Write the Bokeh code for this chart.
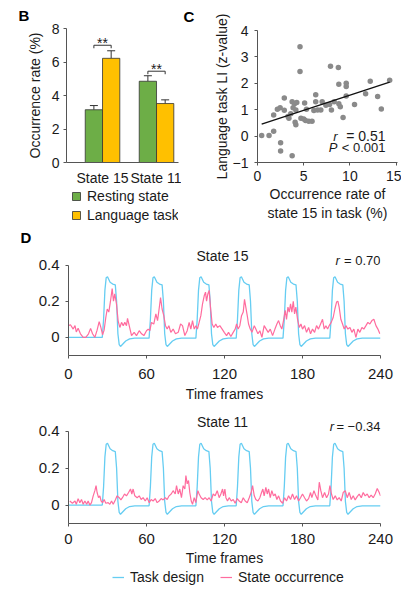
from bokeh.plotting import figure
from bokeh.models import (Range1d, FixedTicker, Legend, LegendItem, Label, Whisker, TeeHead,
                          ColumnDataSource, NumeralTickFormatter, Title)
from bokeh.layouts import row, column
from bokeh.transform import dodge
from bokeh.embed import file_html
from bokeh.resources import INLINE

FONT = "Liberation Sans"
TXT = "#1a1a1a"
AX = "#555555"

# ---------------- data: panel B ----------------
groups = ["State 15", "State 11"]
resting_rate = [3.15, 4.85]
resting_err = [0.25, 0.33]
task_rate = [6.22, 3.52]
task_err = [0.45, 0.22]
sig_y = [7.0, 5.45]
sig_text = ["**", "**"]
legend_b = ["Resting state", "Language task"]

# ---------------- data: panel C ----------------
occ_rate = [0.45, 1.25, 1.75, 1.75, 2.15, 2.45, 2.9, 2.9, 2.5, 2.5, 3.75, 3.3, 3.6, 3.75,
            4.0, 4.25, 3.85, 4.15, 4.15, 4.6, 4.6, 4.7, 5.0, 5.1, 5.2, 5.55, 5.9, 5.3,
            6.1, 6.3, 6.3, 6.5, 6.85, 7.0, 7.4, 7.8, 7.9, 8.0, 8.3, 8.75, 8.8, 8.8,
            8.96, 9.26, 9.6, 9.6, 9.6, 10.5, 11.7, 12.2, 13.0, 13.4, 14.3, 3.4, 4.07]
li_z = [0.02, 0.02, 0.18, 0.80, 1.02, 1.07, 0.98, 1.44, -0.25, -0.56, -0.74, 0.74, 0.85, 1.30,
        1.23, 1.27, 1.07, 0.99, 0.43, 3.38, 2.45, 0.68, 0.65, 1.25, 0.59, 0.56, 0.56, 1.02,
        0.97, 1.57, 1.30, 0.99, 0.99, 1.30, 1.17, 1.20, 2.65, 0.99, 1.30, 2.60, 1.96, 1.23,
        1.11, 0.70, 1.88, 2.00, 1.52, 1.20, 1.60, 2.08, 1.50, 1.03, 2.12, 0.68, 0.52]
fit_intercept = 0.40
fit_slope = 0.115

# ---------------- data: panel D ----------------
legend_d = ["Task design", "State occurrence"]
task_frames = [0,
               26, 27, 28, 29, 30, 31, 32, 34, 36, 37, 38, 39, 40, 42, 44, 47, 51,
               62, 63, 64, 65, 66, 67, 68, 70, 72, 73, 74, 75, 76, 78, 80, 83, 87,
               98, 99, 100, 101, 102, 103, 104, 106, 108, 109, 110, 111, 112, 114, 116, 119, 123,
               129, 130, 131, 132, 133, 134, 135, 137, 139, 140, 141, 142, 143, 145, 147, 150, 154,
               165, 166, 167, 168, 169, 170, 171, 173, 175, 176, 177, 178, 179, 181, 183, 186, 190,
               201, 202, 203, 204, 205, 206, 207, 209, 211, 212, 213, 214, 215, 217, 219, 222, 226,
               240]
task_design = [0,
               0, 0.1, 0.26, 0.33, 0.335, 0.32, 0.305, 0.295, 0.29, 0.2, 0.02, -0.04, -0.05, -0.035, -0.02, -0.008, -0.004,
               -0.004, 0.1, 0.26, 0.33, 0.335, 0.32, 0.305, 0.295, 0.29, 0.2, 0.02, -0.04, -0.05, -0.035, -0.02, -0.008, -0.004,
               -0.004, 0.1, 0.26, 0.33, 0.335, 0.32, 0.305, 0.295, 0.29, 0.2, 0.02, -0.04, -0.05, -0.035, -0.02, -0.008, -0.004,
               -0.004, 0.1, 0.26, 0.33, 0.335, 0.32, 0.305, 0.295, 0.29, 0.2, 0.02, -0.04, -0.05, -0.035, -0.02, -0.008, -0.004,
               -0.004, 0.1, 0.26, 0.33, 0.335, 0.32, 0.305, 0.295, 0.29, 0.2, 0.02, -0.04, -0.05, -0.035, -0.02, -0.008, -0.004,
               -0.004, 0.1, 0.26, 0.33, 0.335, 0.32, 0.305, 0.295, 0.29, 0.2, 0.02, -0.04, -0.05, -0.035, -0.02, -0.008, -0.004,
               -0.004]

s15_frames = [0, 1.5, 3.6, 5, 6, 7.4, 9.2, 11.3, 13.3, 15.4, 17, 18.5, 20.3, 22, 23.6, 24.9, 26.2, 27.4,
              28.7, 29.8, 31, 32.3, 33.6, 34.6, 35.6, 36.9, 38.2, 39.5, 40.8, 42.1, 43.3, 44.6, 45.4,
              46.7, 48.5, 50.5, 52.3, 54.4, 56.2, 58, 60, 61.3, 62.6, 63.8, 65.6, 67.2, 68.5, 69.7,
              70.8, 72, 73.3, 74.6, 75.9, 77.2, 78.7, 80.5, 82.3, 84.4, 86.2, 87.7, 89.5, 91.3, 92.8,
              94.1, 95.4, 96.7, 98, 99.2, 100.5, 101.8, 103.1, 104.4, 105.4, 106.2, 107.2, 108.2,
              109.2, 110.5, 111.8, 113.3, 114.6, 116.4, 118.2, 119.8, 121.6, 123.1, 124.9, 126.7,
              128.2, 129.3, 130.5, 131.8, 133.1, 134.4, 135.4, 136.4, 137.5, 138.5, 139.8, 141.1,
              142.9, 144.1, 145.7, 147.2, 148.8, 150.5, 152.1, 153.6, 155.2, 157, 158.8, 160.3,
              161.6, 162.9, 164.1, 165.4, 166.7, 167.7, 168.8, 169.8, 170.8, 171.8, 172.9, 173.9,
              174.9, 176.2, 177.5, 178.8, 180, 181.6, 183.1, 184.7, 186.2, 187.7, 189.3, 190.8,
              192.3, 193.9, 195.4, 196.7, 198, 199.3, 200.5, 202.1, 203.6, 204.9, 206.2, 207.2,
              208.2, 209.5, 210.8, 212.1, 213.4, 214.9, 216.5, 218, 219.5, 221.1, 222.6, 224.1,
              225.7, 227.2, 228.8, 230.3, 231.8, 233.4, 234.9, 236.5, 238, 239.5]
s15_occ = [0.065, 0.07, 0.046, 0.065, 0.03, 0.05, 0.02, 0.0, 0.0, 0.02, 0.05, 0.02, 0.0, 0.04, 0.087, 0.055, 0.015, 0.04,
           0.11, 0.157, 0.14, 0.2, 0.27, 0.2, 0.24, 0.185, 0.09, 0.055, 0.083, 0.065, 0.083, 0.065, 0.105,
           0.065, 0.01, 0.028, 0.01, 0.037, 0.02, 0.01, 0.037, 0.046, 0.037, 0.083, 0.074, 0.13, 0.093, 0.157,
           0.22, 0.157, 0.12, 0.065, 0.046, 0.065, 0.028, 0.046, 0.02, 0.028, 0.074, 0.065, 0.01, 0.037, 0.083,
           0.046, 0.093, 0.046, 0.065, 0.046, 0.083, 0.12, 0.185, 0.23, 0.25, 0.2, 0.24, 0.26,
           0.167, 0.074, 0.055, 0.074, 0.055, 0.065, 0.046, 0.028, 0.01, 0.028, 0.005, 0.028,
           0.046, 0.074, 0.046, 0.065, 0.12, 0.14, 0.21, 0.167, 0.12, 0.074, 0.046, 0.028,
           0.065, 0.046, 0.02, 0.037, 0.0, 0.065, 0.046, 0.028, 0.046, 0.01, 0.046, 0.074,
           0.093, 0.065, 0.046, 0.093, 0.15, 0.1, 0.167, 0.14, 0.185, 0.14, 0.2, 0.13,
           0.167, 0.1, 0.055, 0.074, 0.046, 0.065, 0.028, 0.055, 0.02, 0.046, 0.028, 0.065,
           0.046, 0.074, 0.1, 0.046, 0.065, 0.046, 0.065, 0.083, 0.11, 0.157, 0.195, 0.2,
           0.167, 0.1, 0.074, 0.046, 0.065, 0.046, 0.055, 0.028, 0.046, 0.0, 0.046, 0.028,
           0.055, 0.046, 0.065, 0.083, 0.074, 0.093, 0.1, 0.065, 0.046, 0.02]

s11_frames = [1, 3, 5, 6, 7.4, 8.7, 10, 11.3, 12.6, 14, 15.1, 16.4, 17.7, 19, 20.3, 21.2, 22, 23.1,
              24.1, 25.1, 26.2, 27.4, 28.7, 30.5, 31.8, 33.1, 34.4, 36.2, 37.4, 39, 40.3, 41.5,
              43.1, 44.6, 46.2, 47.7, 48.7, 49.7, 51, 52.8, 54.4, 55.9, 57.4, 59, 60.5, 62.1,
              63.6, 65.1, 66.7, 68.2, 69.7, 71.3, 72.8, 74.4, 75.9, 77.4, 79, 80.5, 82.1, 83.1,
              84.4, 85.6, 86.9, 88.2, 89.5, 90.3, 91.3, 92.3, 93.3, 94.4, 95.4, 96.7, 97.9,
              99.5, 100.5, 102, 103.6, 105.1, 106.7, 108.2, 109.7, 111.3, 112.8, 114.4, 115.9,
              117.2, 118.5, 119.3, 120.3, 121.1, 122.3, 123.6, 125.2, 126.7, 128.2, 129.8, 131.3,
              132.9, 134.4, 135.9, 137.5, 139, 140.5, 141.6, 142.9, 144.1, 145.7, 147.2, 148.5,
              149.5, 150.5, 151.8, 152.9, 153.9, 155.2, 156.4, 157.7, 159, 160.3, 161.6, 163.1,
              164.7, 166.2, 167.7, 169.3, 170.8, 172.3, 173.9, 175.4, 177, 178.5, 180, 181.6,
              183.1, 184.7, 186.2, 187.2, 188.8, 190.3, 191.8, 192.9, 194.1, 195.4, 197, 198.5,
              200, 201.1, 202.3, 203.6, 205.2, 206.7, 208.2, 209.8, 211.3, 212.9, 214.4, 215.9,
              217.5, 219, 220.5, 222.1, 223.6, 225.2, 226.7, 228.2, 229.8, 231.3, 232.8, 234.4,
              235.9, 237.5, 239, 240]
s11_occ = [0.022, 0.01, 0.022, 0.004, 0.035, 0.013, 0.03, 0.004, 0.022, 0.004, 0.022, 0.0, 0.013, 0.05, 0.078, 0.105, 0.068, 0.04,
           0.05, 0.022, 0.013, 0.03, 0.01, 0.013, 0.004, 0.022, 0.004, 0.03, 0.05, 0.04, 0.028, 0.04,
           0.06, 0.05, 0.068, 0.087, 0.06, 0.087, 0.05, 0.04, 0.05, 0.03, 0.04, 0.022, 0.04, 0.013,
           0.03, 0.022, 0.035, 0.013, 0.022, 0.035, 0.028, 0.04, 0.03, 0.05, 0.06, 0.078, 0.06, 0.105,
           0.06, 0.087, 0.04, 0.105, 0.087, 0.16, 0.115, 0.133, 0.068, 0.022, 0.004, 0.04, 0.013,
           0.078, 0.06, 0.04, 0.03, 0.04, 0.028, 0.04, 0.022, 0.06, 0.05, 0.078, 0.04,
           0.06, 0.087, 0.05, 0.087, 0.04, 0.022, 0.04, 0.022, 0.03, 0.01, 0.035, 0.022,
           0.013, 0.04, 0.022, 0.013, 0.04, 0.068, 0.105, 0.05, 0.03, 0.022, 0.04, 0.068,
           0.087, 0.05, 0.096, 0.06, 0.087, 0.04, 0.078, 0.05, 0.06, 0.03, 0.05, 0.022,
           0.01, 0.04, 0.022, 0.05, 0.03, 0.06, 0.03, 0.05, 0.022, 0.04, 0.06, 0.04,
           0.022, 0.035, 0.068, 0.04, 0.078, 0.05, 0.028, 0.124, 0.078, 0.04, 0.068, 0.04,
           0.06, 0.105, 0.06, 0.03, 0.05, 0.028, 0.04, 0.022, 0.068, 0.078, 0.04, 0.068,
           0.03, 0.05, 0.028, 0.046, 0.06, 0.04, 0.068, 0.05, 0.06, 0.04, 0.054, 0.04,
           0.06, 0.09, 0.068, 0.05]

GREEN = "#6DAE47"
ORANGE = "#FFC000"
BLUE = "#66CDF2"
PINK = "#FF6C9E"
EDGE = "#333333"


def style_axes(p, size="14px"):
    for ax in list(p.xaxis) + list(p.yaxis):
        ax.axis_line_color = AX
        ax.major_tick_line_color = AX
        ax.major_tick_out = 3
        ax.major_tick_in = 0
        ax.minor_tick_line_color = None
        ax.major_label_text_font = FONT
        ax.major_label_text_font_size = size
        ax.major_label_text_color = TXT
        ax.axis_label_text_font = FONT
        ax.axis_label_text_font_size = "14px"
        ax.axis_label_text_font_style = "normal"
        ax.axis_label_text_color = TXT
    p.xgrid.grid_line_color = None
    p.ygrid.grid_line_color = None
    p.outline_line_color = None
    p.background_fill_color = None
    p.border_fill_color = None


def label(p, x, y, text, align="left", style="normal", size="13px", baseline="middle"):
    p.add_layout(Label(x=x, y=y, text=text, text_align=align, text_baseline=baseline,
                       text_font=FONT, text_font_size=size, text_font_style=style,
                       text_color=TXT))


def letter(text, offset, standoff, valign="bottom"):
    return Title(text=text, align="left", offset=offset, standoff=standoff, vertical_align=valign,
                 text_font=FONT, text_font_size="15px", text_font_style="bold", text_color="#000000")


def legend_fig(width, height):
    f = figure(width=width, height=height, x_range=Range1d(0, 1), y_range=Range1d(0, 1),
               x_axis_type=None, y_axis_type=None, min_border=0,
               output_backend="svg", toolbar_location=None)
    f.xgrid.grid_line_color = None
    f.ygrid.grid_line_color = None
    f.outline_line_color = None
    f.background_fill_color = None
    f.border_fill_color = None
    return f


def make_legend(items, loc, orientation, gw, gh, spacing):
    return Legend(items=items, location=loc, orientation=orientation, glyph_width=gw, glyph_height=gh,
                  label_height=14, label_standoff=6, spacing=spacing, padding=0, margin=0,
                  border_line_color=None, background_fill_alpha=0, inactive_fill_alpha=0,
                  label_text_font=FONT, label_text_font_size="14px", label_text_color=TXT)


# ---------------- panel B ----------------
pb = figure(width=181, height=188, x_range=Range1d(-0.667, 1.407), y_range=Range1d(0, 8),
            min_border_left=66, min_border_right=3, min_border_top=26, min_border_bottom=26,
            output_backend="svg", toolbar_location=None, title=letter("B", -48, 9))
gi = list(range(len(groups)))
src_b = ColumnDataSource(dict(
    gi=gi, rest=resting_rate, task=task_rate,
    rest_up=[v + e for v, e in zip(resting_rate, resting_err)],
    task_up=[v + e for v, e in zip(task_rate, task_err)],
    star_y=[s + 0.12 for s in sig_y], stars=sig_text,
    bx=[[g - 0.16, g - 0.16, g + 0.16, g + 0.16] for g in gi],
    by=[[s - 0.18, s, s, s - 0.18] for s in sig_y],
))
pb.vbar(x=dodge('gi', -0.16, range=pb.x_range), top='rest', width=0.32, source=src_b,
        fill_color=GREEN, line_color=EDGE, line_width=0.8)
pb.vbar(x=dodge('gi', 0.16, range=pb.x_range), top='task', width=0.32, source=src_b,
        fill_color=ORANGE, line_color=EDGE, line_width=0.8)
for off, lo, up in [(-0.16, 'rest', 'rest_up'), (0.16, 'task', 'task_up')]:
    pb.add_layout(Whisker(source=src_b, base=dodge('gi', off, range=pb.x_range), lower=lo, upper=up,
                          line_color=EDGE, line_width=1,
                          upper_head=TeeHead(size=8, line_color=EDGE, line_width=1),
                          lower_head=None))
pb.multi_line(xs='bx', ys='by', source=src_b, line_color=EDGE, line_width=1)
pb.text(x='gi', y='star_y', text='stars', source=src_b, text_align="center", text_baseline="middle",
        text_font_size="14px", text_color=TXT)
pb.yaxis.ticker = FixedTicker(ticks=[0, 2, 4, 6, 8])
pb.xaxis.ticker = FixedTicker(ticks=gi)
pb.xaxis.major_label_overrides = {g: name for g, name in zip(gi, groups)}
pb.yaxis.axis_label = "Occurrence rate (%)"
style_axes(pb)
pb.xaxis.major_tick_line_color = None
pb.xaxis.major_tick_out = 0
pb.xaxis.major_label_standoff = 7
pb.yaxis.major_label_standoff = 4
pb.yaxis.axis_label_standoff = 6

# legend for B (its frame lines up with panel B's frame in the column)
lb = legend_fig(181, 40)
lr1 = lb.vbar(x=dodge('gi', -0.16, range=pb.x_range), top='rest', width=0.32, source=src_b,
              fill_color=GREEN, line_color=EDGE, line_width=0.8, visible=False)
lr2 = lb.vbar(x=dodge('gi', 0.16, range=pb.x_range), top='task', width=0.32, source=src_b,
              fill_color=ORANGE, line_color=EDGE, line_width=0.8, visible=False)
lb.add_layout(make_legend([LegendItem(label=legend_b[0], renderers=[lr1]),
                           LegendItem(label=legend_b[1], renderers=[lr2])],
                          (5, 5), "vertical", 10, 10, 3))

# ---------------- panel C ----------------
pc = figure(width=220, height=228, x_range=Range1d(0, 15.15), y_range=Range1d(-1, 4),
            min_border_left=76, min_border_right=4, min_border_top=28, min_border_bottom=66,
            output_backend="svg", toolbar_location=None, title=letter("C", -74, 11))
pc.scatter(occ_rate, li_z, size=5.5, fill_color="#8a8a8a", line_color=None)
fx = [min(occ_rate), max(occ_rate)]
pc.line(fx, [fit_intercept + fit_slope * v for v in fx], line_color="#111111", line_width=1.3)
pc.xaxis.ticker = FixedTicker(ticks=[0, 5, 10, 15])
pc.yaxis.ticker = FixedTicker(ticks=[-1, 0, 1, 2, 3, 4])
pc.yaxis.major_label_overrides = {-1: "\u22121"}
pc.xaxis.axis_label = "Occurrence rate of\nstate 15 in task (%)"
pc.yaxis.axis_label = "Language task LI (z-value)"
style_axes(pc)
pc.xaxis.axis_label_standoff = 2
pc.yaxis.major_label_standoff = 6
pc.yaxis.axis_label_standoff = 0
label(pc, 8.2, 0.0, "r", style="italic")
label(pc, 13.85, 0.0, "= 0.51", align="right", size="14px")
label(pc, 7.7, -0.45, "P", style="italic")
label(pc, 13.85, -0.45, "< 0.001", align="right")


# ---------------- panel D ----------------
def ts_panel(title, r_text, r_x, occ_x, occ_y, height, top, bottom, y_top, panel_letter,
             tick_standoff, label_standoff):
    kw = {}
    if panel_letter:
        kw["title"] = letter(panel_letter, -48, 0, "top")
    p = figure(width=401, height=height, x_range=Range1d(0, 240), y_range=Range1d(-0.1, y_top),
               min_border_left=68, min_border_right=21, min_border_top=top, min_border_bottom=bottom,
               output_backend="svg", toolbar_location=None, **kw)
    p.line(task_frames, task_design, line_color=BLUE, line_width=1.3)
    p.line(occ_x, occ_y, line_color=PINK, line_width=1.2)
    p.xaxis.ticker = FixedTicker(ticks=[0, 60, 120, 180, 240])
    p.yaxis.ticker = FixedTicker(ticks=[0, 0.2, 0.4])
    p.yaxis.bounds = (-0.1, 0.4)
    p.yaxis.formatter = NumeralTickFormatter(format="0.[0]")
    p.xaxis.axis_label = "Time frames"
    style_axes(p, size="15px")
    p.xaxis.major_label_standoff = tick_standoff
    p.xaxis.axis_label_standoff = label_standoff
    p.yaxis.major_label_standoff = 6
    ty = 0.4 + (y_top - 0.4) * 0.5
    label(p, 118.5, ty, title, align="center", size="14px")
    label(p, r_x, ty - 0.025, "r", style="italic")
    label(p, 240, ty - 0.025, r_text, align="right")
    return p


pd1 = ts_panel("State 15", "= 0.70", 205.4, s15_frames, s15_occ, 176, 18, 47, 0.4968, "D", 10, 4)
pd2 = ts_panel("State 11", "= \u22120.34", 201.0, s11_frames, s11_occ, 164, 8, 44, 0.502, None, 7, 3)

# legend for D (its frame lines up with panel D's frame in the column)
ld = legend_fig(401, 25)
ldr1 = ld.line(task_frames, task_design, line_color=BLUE, line_width=1.3, visible=False)
ldr2 = ld.line(s11_frames, s11_occ, line_color=PINK, line_width=1.2, visible=False)
ld.add_layout(make_legend([LegendItem(label=legend_d[0], renderers=[ldr1]),
                           LegendItem(label=legend_d[1], renderers=[ldr2])],
                          (44, 8), "horizontal", 12, 14, 16))

layout = column(row(column(pb, lb), pc), pd1, pd2, ld)
open("out.html", "w").write(file_html(layout, INLINE))
